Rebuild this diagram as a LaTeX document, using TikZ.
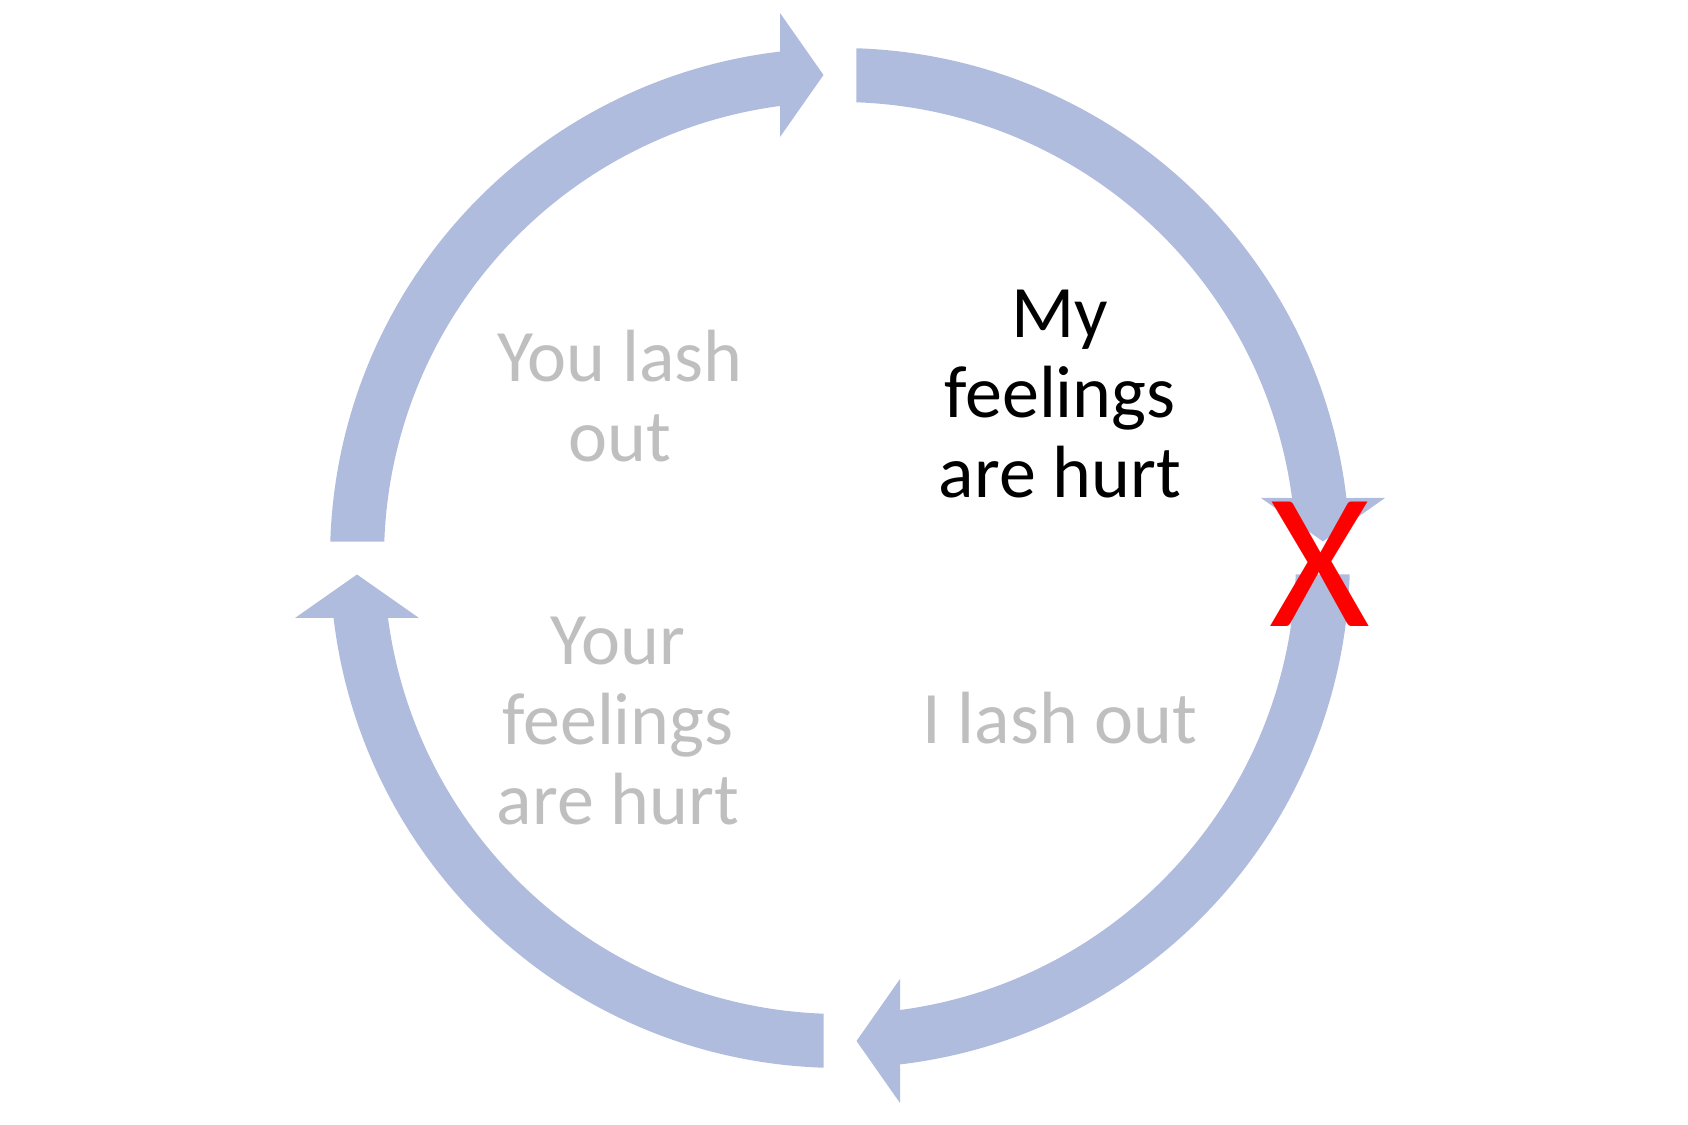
\documentclass[tikz,border=0pt]{standalone}
\usepackage{fontspec}
\setmainfont{Carlito}
\definecolor{arrowblue}{RGB}{176,188,222}
\definecolor{fadedtext}{RGB}{191,191,191}
\definecolor{crossred}{RGB}{255,0,0}
\begin{document}
\begin{tikzpicture}[x=0.5pt,y=0.5pt,
  arrowshape/.style={fill=arrowblue},
  labeltext/.style={font=\fontsize{37pt}{40pt}\selectfont, align=center, inner sep=0pt, anchor=base},
  activetext/.style={labeltext, text=black},
  fadedlabel/.style={labeltext, text=fadedtext},
  crossmark/.style={font=\fontsize{97pt}{100pt}\selectfont, text=crossred, inner sep=0pt, anchor=base}]
\useasboundingbox (0,0) rectangle (1688,1125);
\coordinate (C) at (840,567);
\foreach \rot in {0,-90,-180,-270} {
  \begin{scope}[shift={(C)}, rotate=\rot]
    \fill[arrowshape]
      ({90-asin(16.5/510)}:510)
      arc[start angle={90-asin(16.5/510)}, end angle={asin(60/510)}, radius=510]
      -- (545,60) -- (483,16.5) -- (421,60)
      -- ({asin(60/456)}:456)
      arc[start angle={asin(60/456)}, end angle={90-asin(16.5/456)}, radius=456]
      -- cycle;
  \end{scope}
}
% base anchor of a multi-line node sits on its last line
\node[activetext] (myhurt) at (1060,627) {My\\feelings\\are hurt};
\node[fadedlabel] (youlash) at (620,663) {You lash\\out};
\node[fadedlabel] (yourhurt) at (618,300) {Your\\feelings\\are hurt};
\node[fadedlabel] (ilash) at (1060,381) {I lash out};
\node[crossmark] (cross) at (1320,498) {X};
\end{tikzpicture}
\end{document}
